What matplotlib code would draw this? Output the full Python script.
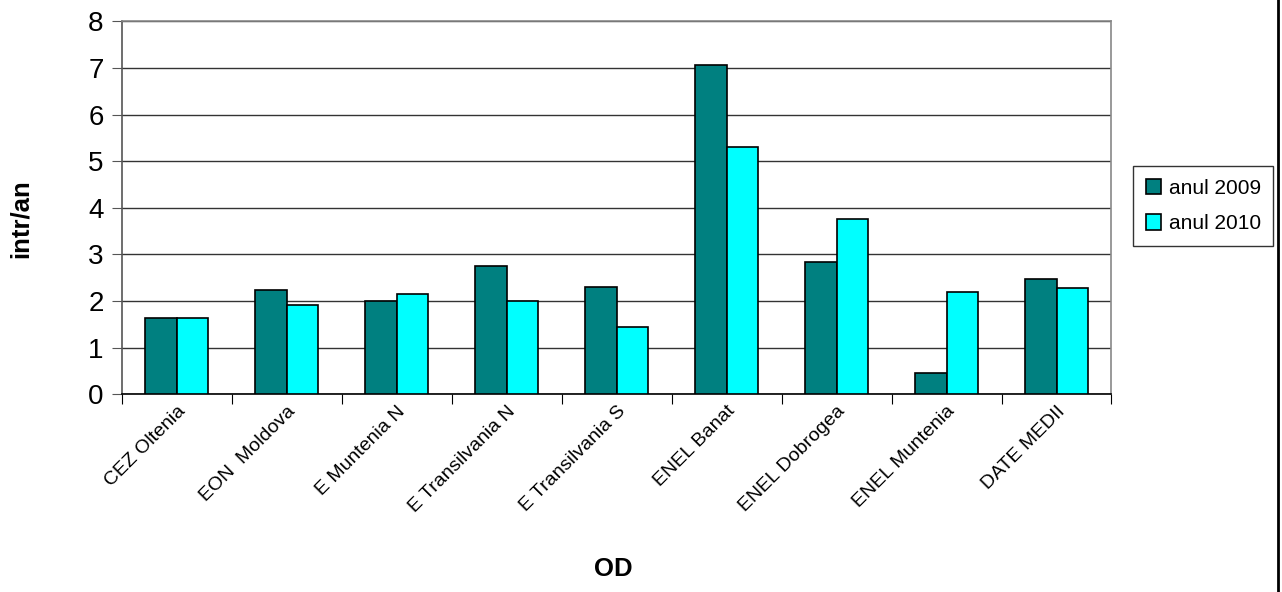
import numpy as np
import matplotlib.pyplot as plt
from matplotlib.lines import Line2D

plt.rcParams["font.family"] = ["Liberation Sans", "DejaVu Sans"]

categorii = ["CEZ Oltenia", "EON  Moldova", "E Muntenia N", "E Transilvania N",
             "E Transilvania S", "ENEL Banat", "ENEL Dobrogea", "ENEL Muntenia",
             "DATE MEDII"]
anul_2009 = [1.64, 2.24, 2.00, 2.75, 2.30, 7.07, 2.83, 0.46, 2.48]
anul_2010 = [1.64, 1.92, 2.15, 2.00, 1.45, 5.31, 3.76, 2.19, 2.28]
serii = ["anul 2009", "anul 2010"]
culori = ["#008080", "#00FFFF"]

fig = plt.figure(figsize=(12.82, 5.92), dpi=100)
ax = fig.add_axes([0.095, 0.334, 0.772, 0.63])

x = np.arange(len(categorii))
w = 1 / 3.5  # gap width 150%
ax.bar(x - w / 2, anul_2009, w, color=culori[0], edgecolor="black", linewidth=1.2,
       label=serii[0], zorder=3)
ax.bar(x + w / 2, anul_2010, w, color=culori[1], edgecolor="black", linewidth=1.2,
       label=serii[1], zorder=3)

ax.set_xlim(-0.5, len(categorii) - 0.5)
ax.set_ylim(0, 8)
ax.set_yticks(range(0, 9))
ax.yaxis.grid(True, color="#333333", linewidth=1.0, zorder=0)

# category ticks sit between the groups
ax.set_xticks(np.arange(-0.5, len(categorii)), minor=False)
ax.set_xticklabels([])
ax.set_xticks(x, minor=True)
ax.set_xticklabels(categorii, minor=True, rotation=45, ha="right",
                   rotation_mode="anchor", fontsize=14)
ax.tick_params(axis="x", which="minor", length=0, pad=6)
ax.tick_params(axis="x", which="major", length=7, direction="out", color="black")
ax.tick_params(axis="y", length=7, direction="out", labelsize=20, pad=6,
               color="#555555")

for side in ["top", "right"]:
    ax.spines[side].set_color("#888888")
    ax.spines[side].set_linewidth(1.2)
ax.spines["left"].set_color("#555555")
ax.spines["left"].set_linewidth(1.2)
ax.spines["bottom"].set_color("black")
ax.spines["bottom"].set_linewidth(1.2)

ax.set_ylabel("intr/an", fontsize=18.5, fontweight="bold")
ax.set_xlabel("OD", fontsize=18.5, fontweight="bold")
ax.yaxis.set_label_coords(-0.09, 0.47)
ax.xaxis.set_label_coords(0.497, -0.435)

leg = ax.legend(loc="center left", bbox_to_anchor=(1.022, 0.505), fontsize=15,
                frameon=True, fancybox=False, edgecolor="black", borderpad=0.6,
                handlelength=0.75, handleheight=0.75, handletextpad=0.35,
                labelspacing=0.8, borderaxespad=0)
leg.get_frame().set_linewidth(1.0)

# chart border on the right side
fig.add_artist(Line2D([0.9965, 0.9965], [0, 1], transform=fig.transFigure,
                      color="black", linewidth=2))

fig.savefig("out.png", dpi=100)
